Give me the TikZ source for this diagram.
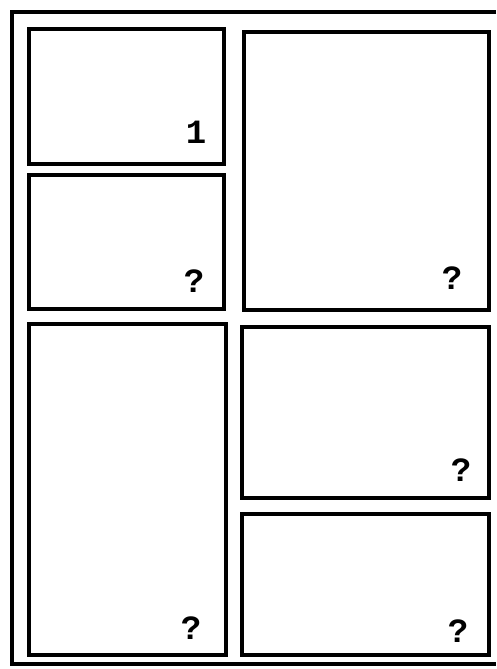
\documentclass[tikz,border=0pt]{standalone}
\usepackage{fontspec}
\setmonofont{Liberation Mono}
\begin{document}
\begin{tikzpicture}[x=1pt,y=-1pt,
  panel/.style={draw=black,line width=4pt,inner sep=0pt,anchor=north west,rectangle},
  num/.style={font=\ttfamily\bfseries\fontsize{34}{34}\selectfont,inner sep=0pt,anchor=center}]
\useasboundingbox[fill=white] (0,0) rectangle (496,669);
\coordinate (ftr) at (496,12);
\coordinate (ftl) at (12,12);
\coordinate (fbl) at (12,664);
\coordinate (fbr) at (496,664);
\draw[line width=3.5pt] (ftr) -- (ftl) -- (fbl) -- (fbr);
\node[panel,minimum width=195pt,minimum height=135pt] (p1) at (27,27) {};
\node[panel,minimum width=195pt,minimum height=134pt] (p2) at (27,173) {};
\node[panel,minimum width=245pt,minimum height=278pt] (p3) at (242,30) {};
\node[panel,minimum width=197pt,minimum height=331pt] (p4) at (27,322) {};
\node[panel,minimum width=247pt,minimum height=171pt] (p5) at (240,325) {};
\node[panel,minimum width=247pt,minimum height=141pt] (p6) at (240,512) {};
\node[num] (l1) at (196,132) {1};
\node[num] (l2) at (194,281) {?};
\node[num] (l3) at (452,278) {?};
\node[num] (l5) at (461,470) {?};
\node[num] (l4) at (191,628) {?};
\node[num] (l6) at (458,631) {?};
\end{tikzpicture}
\end{document}
